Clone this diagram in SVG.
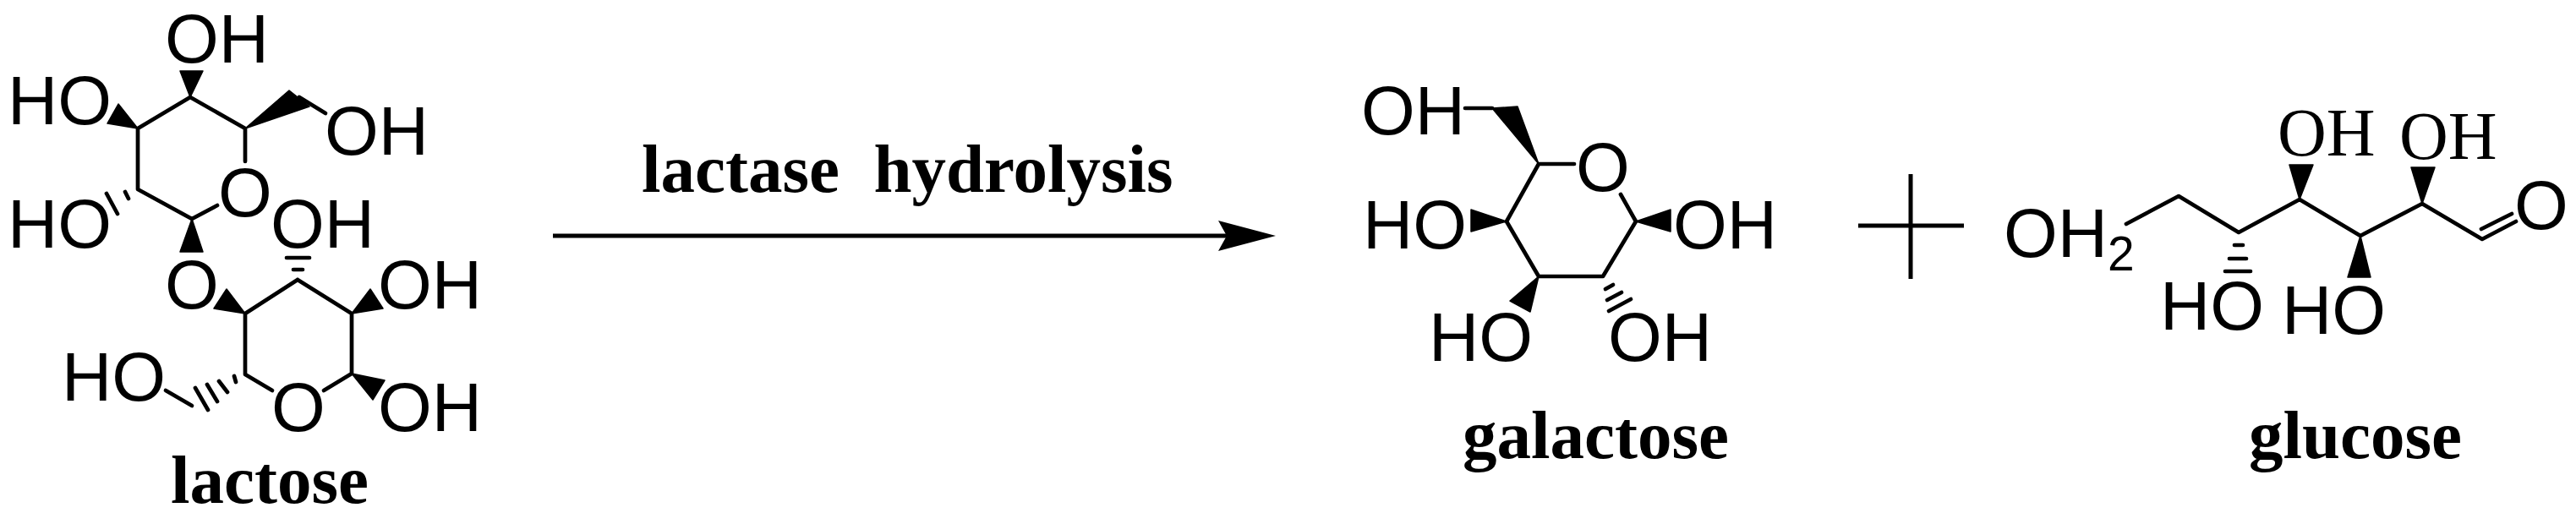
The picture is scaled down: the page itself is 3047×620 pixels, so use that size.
<svg xmlns="http://www.w3.org/2000/svg" width="3047" height="620" viewBox="0 0 3047 620">
<style>
.b{fill:none;stroke:#000;stroke-width:4.7;stroke-linecap:round;stroke-linejoin:round}
.p{fill:none;stroke:#000;stroke-width:5}
.w{fill:#000;stroke:#000;stroke-width:1.5;stroke-linejoin:round}
.a{font-family:"Liberation Sans",Arial,sans-serif;font-size:82px;fill:#000}
.s{font-size:57px}
.r{font-family:"Liberation Serif","Times New Roman",serif;font-size:80px;fill:#000}
.t{font-family:"Liberation Serif","Times New Roman",serif;font-size:81px;font-weight:bold;fill:#000}
</style>
<defs>
<marker id="head" markerUnits="userSpaceOnUse" markerWidth="68" markerHeight="36" viewBox="0 0 68 36" refX="10" refY="18" orient="auto">
<polygon points="0,0 68,18 0,36 10,18" fill="#000"/>
</marker>
</defs>
<rect width="3047" height="620" fill="#fff"/>
<g id="lactose">
<path class="b" d="M225,115 L163,152 L163,224 L227,259 L257,243 M225,115 L290,152 L290,191"/>
<polygon class="w" points="225,115 213,84 240,84"/>
<polygon class="w" points="163,152 140,123 127,146"/>
<polygon class="w" points="290,152 342,107 366,126"/>
<path class="b" d="M354,115 L385,134"/>
<path class="b" d="M126,229 L139,253 M148,227 L152,235"/>
<polygon class="w" points="227,259 213,298 240,298"/>
<text class="a" x="195" y="74">OH</text>
<text class="a" x="9" y="147">HO</text>
<text class="a" x="384" y="183">OH</text>
<text class="a" x="9" y="293">HO</text>
<text class="a" x="320" y="293">OH</text>
<text class="a" x="258" y="256">O</text>
<path class="b" d="M339,305 L366,305 M347,319 L358,319"/>
<path class="b" d="M352,331 L290,371 L290,443 L322,462 M352,331 L416,371 L416,442 L383,462"/>
<polygon class="w" points="290,371 268,342 253,365"/>
<polygon class="w" points="416,371 438,342 453,365"/>
<polygon class="w" points="416,442 455,450 441,473"/>
<path class="b" d="M277,445 L279,452 M259,451 L269,464 M245,455 L257,475 M231,459 L246,485"/>
<path class="b" d="M227,480 L196,462"/>
<text class="a" x="195" y="365">O</text>
<text class="a" x="447" y="365">OH</text>
<text class="a" x="73" y="474">HO</text>
<text class="a" x="321" y="510">O</text>
<text class="a" x="447" y="510">OH</text>
<text class="t" x="202" y="595">lactose</text>
</g>
<g id="connectors">
<line x1="654" y1="279" x2="1451" y2="279" stroke="#000" stroke-width="5" marker-end="url(#head)"/>
</g>
<g id="reaction-label">
<text class="t" x="759" y="227" xml:space="preserve">lactase  hydrolysis</text>
</g>
<g id="galactose">
<path class="b" d="M1733,128 L1765,128"/>
<polygon class="w" points="1820,194 1765,128 1795,126"/>
<path class="b" d="M1862,194 L1820,194 L1782,262 L1820,327 L1896,327 L1935,262 L1917,230"/>
<polygon class="w" points="1935,262 1976,248 1976,274"/>
<polygon class="w" points="1782,262 1740,248 1740,274"/>
<polygon class="w" points="1820,327 1786,356 1810,369"/>
<path class="b" d="M1899,342 L1908,337 M1901,355 L1918,346 M1903,368 L1929,354"/>
<text class="a" x="1610" y="159">OH</text>
<text class="a" x="1864" y="226">O</text>
<text class="a" x="1612" y="294">HO</text>
<text class="a" x="1979" y="294">OH</text>
<text class="a" x="1690" y="427">HO</text>
<text class="a" x="1902" y="427">OH</text>
<text class="t" x="1730" y="542">galactose</text>
</g>
<g id="plus">
<path class="p" d="M2198,267 L2323,267 M2260,206 L2260,330"/>
</g>
<g id="glucose">
<path class="b" d="M2515,265 L2577,232 L2648,275 L2720,236 L2792,279 L2865,241 L2936,283 L2976,262 M2935,271 L2971,253"/>
<polygon class="w" points="2720,236 2708,195 2736,195"/>
<polygon class="w" points="2865,241 2852,198 2880,198"/>
<polygon class="w" points="2792,279 2777,328 2804,328"/>
<path class="b" d="M2643,290 L2653,290 M2637,306 L2657,306 M2632,321 L2662,321"/>
<text class="a" x="2370" y="304">OH<tspan class="s" dy="16">2</tspan></text>
<text class="a" x="2974" y="271">O</text>
<text class="r" x="2694" y="184">OH</text>
<text class="r" x="2838" y="188">OH</text>
<text class="a" x="2555" y="390">HO</text>
<text class="a" x="2699" y="395">HO</text>
<text class="t" x="2660" y="542">glucose</text>
</g>
</svg>
